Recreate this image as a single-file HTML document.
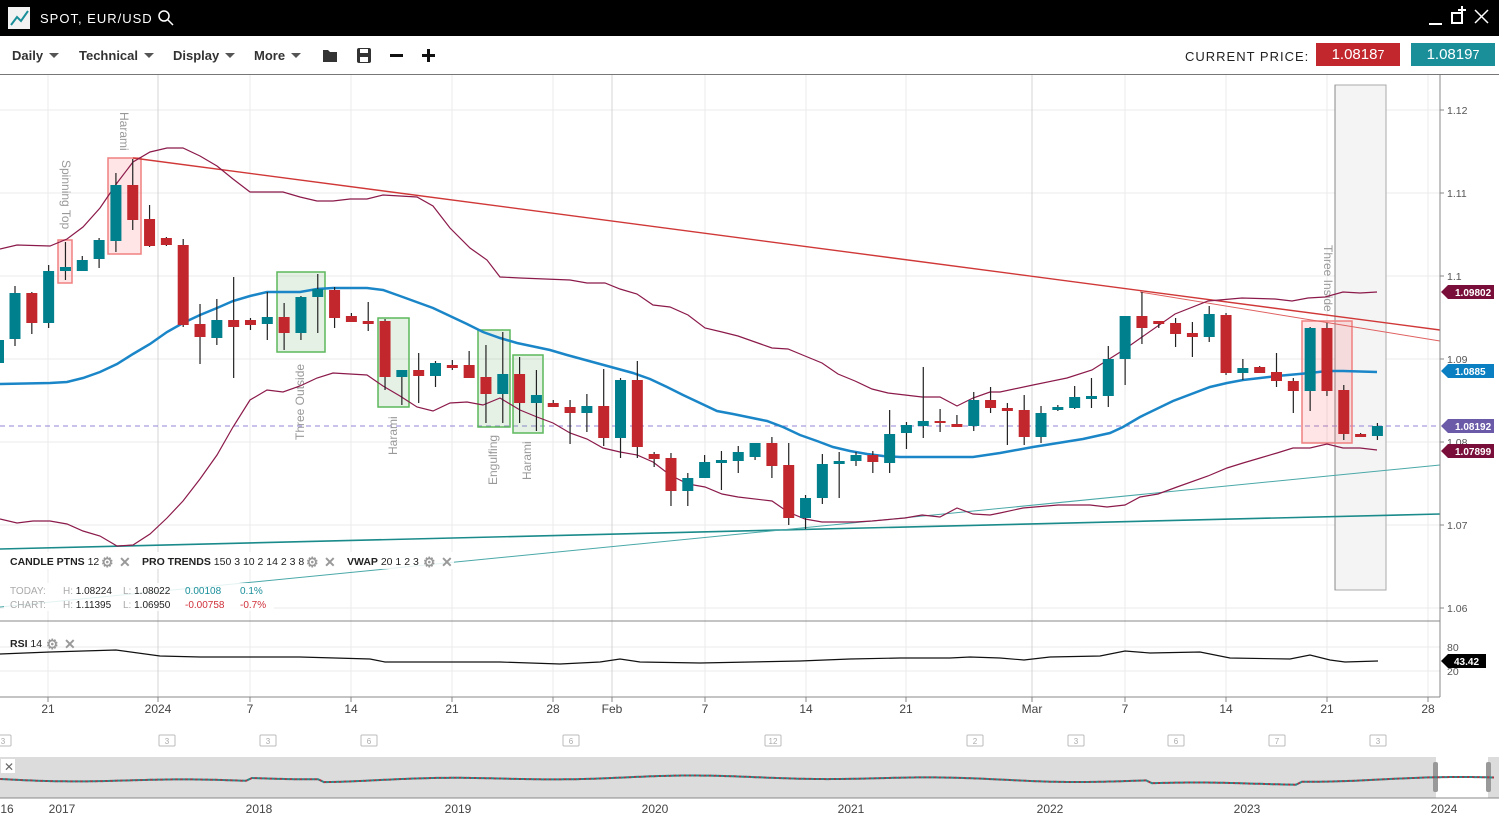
<!DOCTYPE html>
<html><head><meta charset="utf-8">
<style>
*{margin:0;padding:0;box-sizing:border-box}
body{width:1499px;height:827px;overflow:hidden;background:#fff;font-family:"Liberation Sans",Arial,sans-serif;position:relative}
.top{position:absolute;left:0;top:0;width:1499px;height:36px;background:#000}
.tb{position:absolute;top:36px;left:0;width:1499px;height:39px;border-bottom:1px solid #777}
.tb .it{position:absolute;top:12px;font-size:13px;font-weight:bold;color:#333}
.tri{display:inline-block;width:0;height:0;border-left:5px solid transparent;border-right:5px solid transparent;border-top:5px solid #555;margin-left:6px;vertical-align:2px}
svg{position:absolute;left:0;top:0}
</style></head><body>
<div class="top">
 <div style="position:absolute;left:8px;top:7px;width:22px;height:22px;background:#f2f2f2"></div>
 <svg width="40" height="36" style="left:0;top:0"><polyline points="11,25 17,17 21,21 28,11" fill="none" stroke="#1a8f9a" stroke-width="2"/></svg>
 <div style="position:absolute;left:40px;top:11px;color:#fff;font-size:13px;letter-spacing:1px">SPOT, EUR/USD</div>
 <svg width="20" height="20" style="left:157px;top:9px"><circle cx="7" cy="7" r="5" fill="none" stroke="#fff" stroke-width="1.5"/><line x1="11" y1="11" x2="16" y2="16" stroke="#fff" stroke-width="1.5"/></svg>
 <svg width="70" height="36" style="left:1425px;top:0"><line x1="4" y1="24" x2="17" y2="24" stroke="#fff" stroke-width="2"/><rect x="27" y="13" width="10" height="10" fill="none" stroke="#fff" stroke-width="2"/><line x1="37" y1="6" x2="37" y2="14" stroke="#fff" stroke-width="2"/><line x1="33" y1="10" x2="41" y2="10" stroke="#fff" stroke-width="2"/><line x1="50" y1="10" x2="63" y2="23" stroke="#fff" stroke-width="1.5"/><line x1="63" y1="10" x2="50" y2="23" stroke="#fff" stroke-width="1.5"/></svg>
</div>
<div class="tb">
 <div class="it" style="left:12px">Daily<span class="tri"></span></div>
 <div class="it" style="left:79px">Technical<span class="tri"></span></div>
 <div class="it" style="left:173px">Display<span class="tri"></span></div>
 <div class="it" style="left:254px">More<span class="tri"></span></div>
 <svg width="120" height="38" style="left:320px;top:0"><path d="M3,14 h5 l2,2 h7 v10 h-14z" fill="#333"/><rect x="37" y="12" width="14" height="15" rx="2" fill="#333"/><rect x="40" y="13" width="8" height="4" fill="#fff"/><rect x="40" y="21" width="8" height="5" fill="#fff"/><rect x="70" y="18" width="13" height="3" fill="#111"/><rect x="102" y="18" width="13" height="3" fill="#111"/><rect x="107" y="13" width="3" height="13" fill="#111"/></svg>
 <div style="position:absolute;left:1185px;top:13px;font-size:13px;color:#222;letter-spacing:1px">CURRENT PRICE:</div>
 <div style="position:absolute;left:1316px;top:7px;width:84px;height:23px;background:#c1272d;color:#fff;font-size:15px;text-align:center;line-height:23px">1.0818<small>7</small></div>
 <div style="position:absolute;left:1411px;top:7px;width:84px;height:23px;background:#1a8f9a;color:#fff;font-size:15px;text-align:center;line-height:23px">1.0819<small>7</small></div>
</div>
<svg id="ch" width="1499" height="827" style="top:0" font-family="Liberation Sans, Arial, sans-serif">
<g stroke="#ebebeb" stroke-width="1">
<line x1="0" y1="110" x2="1440" y2="110"/><line x1="0" y1="193" x2="1440" y2="193"/><line x1="0" y1="276" x2="1440" y2="276"/><line x1="0" y1="359" x2="1440" y2="359"/><line x1="0" y1="442" x2="1440" y2="442"/><line x1="0" y1="525" x2="1440" y2="525"/><line x1="0" y1="608" x2="1440" y2="608"/>
<line x1="0" y1="647" x2="1440" y2="647"/><line x1="0" y1="671" x2="1440" y2="671"/>
</g>
<g id="vg" stroke-width="1"></g>
<rect x="1335" y="85" width="51" height="505" fill="#f4f4f4" stroke="#aaa" stroke-width="1"/>
<line x1="1335" y1="85" x2="1335" y2="590" stroke="#888"/>
<line x1="0" y1="426" x2="1440" y2="426" stroke="#9484d4" stroke-dasharray="5,4"/>
<g fill="rgba(255,80,80,0.15)" stroke="#f08080" stroke-width="1.5">
<rect x="58" y="240" width="14" height="43"/><rect x="108" y="158" width="33" height="96"/><rect x="1302" y="321" width="50" height="122"/>
</g>
<g fill="rgba(60,150,60,0.13)" stroke="#5cb85c" stroke-width="1.5">
<rect x="277" y="272" width="48" height="80"/><rect x="378" y="318" width="31" height="89"/><rect x="478" y="330" width="32" height="97"/><rect x="513" y="355" width="30" height="78"/>
</g>
<g fill="#999" font-size="12">
<text transform="translate(62,160) rotate(90)">Spinning Top</text>
<text transform="translate(120,112) rotate(90)">Harami</text>
<text transform="translate(304,440) rotate(-90)">Three Outside</text>
<text transform="translate(397,455) rotate(-90)">Harami</text>
<text transform="translate(497,485) rotate(-90)">Engulfing</text>
<text transform="translate(531,480) rotate(-90)">Harami</text>
<text transform="translate(1324,245) rotate(90)">Three Inside</text>
</g>
<g id="lines" fill="none"></g>
<g id="cd"></g>
<rect x="4" y="552" width="450" height="17" fill="#fff" opacity="0.85"/>
<rect x="4" y="583" width="270" height="28" fill="#fff" opacity="0.85"/>
<g font-size="10.5" fill="#222">
<text x="10" y="565"><tspan font-weight="bold">CANDLE PTNS</tspan> 12</text>
<text x="142" y="565"><tspan font-weight="bold">PRO TRENDS</tspan> 150 3 10 2 14 2 3 8</text>
<text x="347" y="565"><tspan font-weight="bold">VWAP</tspan> 20 1 2 3</text>
<text x="10" y="647"><tspan font-weight="bold">RSI</tspan> 14</text>
</g>
<g fill="#999" font-size="14" font-weight="bold">
<text x="101" y="567">⚙</text><text x="119" y="567">✕</text><text x="306" y="567">⚙</text><text x="324" y="567">✕</text><text x="423" y="567">⚙</text><text x="441" y="567">✕</text><text x="46" y="649">⚙</text><text x="64" y="649">✕</text>
</g>
<g font-size="10" fill="#222">
<text x="10" y="594" fill="#aaa">TODAY:</text><text x="63" y="594"><tspan fill="#aaa">H:</tspan> 1.08224</text><text x="123" y="594"><tspan fill="#aaa">L:</tspan> 1.08022</text><text x="185" y="594" fill="#1a8f9a">0.00108</text><text x="240" y="594" fill="#1a8f9a">0.1%</text>
<text x="10" y="608" fill="#aaa">CHART:</text><text x="63" y="608"><tspan fill="#aaa">H:</tspan> 1.11395</text><text x="123" y="608"><tspan fill="#aaa">L:</tspan> 1.06950</text><text x="185" y="608" fill="#d0303a">-0.00758</text><text x="240" y="608" fill="#d0303a">-0.7%</text>
</g>
<line x1="0" y1="621" x2="1440" y2="621" stroke="#888"/>
<line x1="0" y1="697" x2="1440" y2="697" stroke="#888"/>
<line x1="1440" y1="75" x2="1440" y2="697" stroke="#888"/>
<polyline fill="none" stroke="#111" stroke-width="1.2" points="0,654 50,652 116,650 160,656 200,657 300,657 370,659 385,662 500,662 560,664 600,662 620,659 640,662 700,663 800,661 850,659 900,658 950,658 970,657 1000,658 1024,660 1050,657 1100,656 1125,651 1150,653 1200,652 1230,658 1290,659 1310,655 1330,660 1345,662 1378,661"/>
<g font-size="10.5" fill="#555">
<text x="1447" y="114">1.12</text><text x="1447" y="197">1.11</text><text x="1447" y="280">1.1</text><text x="1447" y="363">1.09</text><text x="1447" y="446">1.08</text><text x="1447" y="529">1.07</text><text x="1447" y="612">1.06</text><text x="1447" y="651">80</text><text x="1447" y="675">20</text>
</g>
<g stroke="#888"><line x1="1440" y1="110" x2="1444" y2="110"/><line x1="1440" y1="193" x2="1444" y2="193"/><line x1="1440" y1="276" x2="1444" y2="276"/><line x1="1440" y1="359" x2="1444" y2="359"/><line x1="1440" y1="442" x2="1444" y2="442"/><line x1="1440" y1="525" x2="1444" y2="525"/><line x1="1440" y1="608" x2="1444" y2="608"/></g>
<g id="tags" font-size="10" font-weight="bold" fill="#fff"></g>
<g font-size="12" fill="#444" text-anchor="middle">
<text x="48" y="713">21</text><text x="158" y="713">2024</text><text x="250" y="713">7</text><text x="351" y="713">14</text><text x="452" y="713">21</text><text x="553" y="713">28</text><text x="612" y="713">Feb</text><text x="705" y="713">7</text><text x="806" y="713">14</text><text x="906" y="713">21</text><text x="1032" y="713">Mar</text><text x="1125" y="713">7</text><text x="1226" y="713">14</text><text x="1327" y="713">21</text><text x="1428" y="713">28</text>
</g>
<g id="cal" font-size="8" fill="#aaa" text-anchor="middle"></g>
<rect x="0" y="757" width="1499" height="41" fill="#dcdcdc"/>
<rect x="1436" y="757" width="52" height="41" fill="#fff"/>
<rect x="1433" y="762" width="5" height="30" rx="2" fill="#999"/><rect x="1486" y="762" width="5" height="30" rx="2" fill="#999"/>
<rect x="1" y="759" width="14" height="14" fill="#fff"/><text x="4" y="771" font-size="12" fill="#666">✕</text>
<polyline id="nav" fill="none" stroke="#2a8a8a" stroke-width="2" stroke-dasharray="3,2"></polyline>
<line x1="0" y1="798" x2="1499" y2="798" stroke="#888"/>
<g font-size="12" fill="#444" text-anchor="middle">
<text x="7" y="813">16</text><text x="62" y="813">2017</text><text x="259" y="813">2018</text><text x="458" y="813">2019</text><text x="655" y="813">2020</text><text x="851" y="813">2021</text><text x="1050" y="813">2022</text><text x="1247" y="813">2023</text><text x="1444" y="813">2024</text>
</g>
</svg>
<script>
var NS="http://www.w3.org/2000/svg";
function el(p,t,a){var e=document.createElementNS(NS,t);for(var k in a)e.setAttribute(k,a[k]);p.appendChild(e);return e;}
var vg=document.getElementById('vg');
[[48,0],[158,1],[250,0],[351,0],[452,0],[553,0],[612,1],[705,0],[806,0],[906,0],[1032,1],[1125,0],[1226,0],[1327,0],[1428,0]].forEach(function(v){el(vg,'line',{x1:v[0],y1:75,x2:v[0],y2:697,stroke:v[1]?'#d4d4d4':'#ebebeb'});el(vg,'line',{x1:v[0],y1:697,x2:v[0],y2:702,stroke:'#888'});});
var L=document.getElementById('lines');
function pl(pts,c,w){el(L,'polyline',{points:pts,stroke:c,'stroke-width':w,fill:'none'});}
pl("0,549 1440,514","#1a8a8a",1.6);
pl("0,607 1440,465","#4aa8a8",1);
pl("133,158 1440,330","#d03838",1.4);
pl("1140,292 1440,341","#e06060",1);
pl("0,249 17,245 50,246 67,239 83,227 100,208 117,183 133,162 150,152 167,148 183,148 200,156 217,166 233,179 250,192 283,192 300,197 317,201 333,201 350,199 367,199 383,195 400,196 417,197 433,206 450,228 470,248 487,260 500,277 520,278 570,280 587,283 605,283 620,289 637,294 653,305 670,307 688,315 705,328 722,332 738,336 755,342 772,348 788,349 805,356 822,363 838,374 855,381 872,389 888,393 905,395 922,397 940,397 957,406 973,398 990,392 1000,392 1033,385 1067,378 1092,370 1125,349 1142,337 1175,314 1208,301 1242,298 1275,299 1292,301 1308,298 1325,297 1343,292 1360,293 1377,292","#8b1a4a",1.2);
pl("0,519 17,523 33,521 50,521 67,524 83,531 100,536 117,546 133,545 150,534 167,518 183,501 200,479 217,455 233,427 250,400 267,390 283,392 300,386 317,378 333,373 367,375 383,386 400,396 417,407 433,411 450,403 467,402 483,405 500,398 520,410 537,417 553,423 570,433 587,439 603,448 620,452 637,455 653,462 670,475 688,484 705,487 722,494 738,497 772,501 788,512 805,519 822,522 855,522 872,521 905,518 922,515 940,517 957,508 973,514 990,515 1000,513 1023,508 1058,505 1090,505 1107,507 1125,505 1140,497 1158,494 1177,487 1208,476 1227,468 1243,463 1260,458 1277,453 1293,448 1310,448 1327,444 1343,448 1360,448 1377,450","#8b1a4a",1.2);
pl("0,384 50,383 67,382 83,378 100,372 117,364 133,354 150,344 167,332 183,323 200,315 217,308 233,301 250,296 267,292 300,292 317,289 333,288 367,288 383,290 400,296 433,308 450,316 467,324 483,332 500,338 517,343 550,350 567,355 600,364 633,373 650,379 667,387 683,395 700,403 717,411 733,414 767,421 783,427 800,435 817,441 833,447 850,451 867,454 883,456 900,457 933,457 973,457 1000,453 1033,447 1083,439 1110,433 1123,427 1140,417 1173,401 1210,387 1227,383 1243,380 1277,376 1310,373 1327,371 1343,371 1377,372","#1a86c8",2.5);
var C=[[293,339,286,346,1],[293,323,292,334,0],[271,323,265,328,1],[267,271,242,280,1],[260,271,256,271,1],[240,259,238,268,1],[185,241,173,252,1],[185,220,159,230,0],[219,246,205,247,0],[238,245,237,246,0],[245,325,239,327,0],[324,337,304,364,0],[320,338,299,345,1],[320,327,277,378,0],[320,325,318,330,0],[317,324,292,340,1],[317,333,303,350,0],[297,333,296,340,1],[289,297,274,333,1],[290,318,287,328,0],[316,322,313,322,0],[321,324,302,331,0],[321,377,319,390,0],[370,377,370,405,1],[370,376,353,403,0],[363,376,361,387,1],[365,368,360,370,0],[365,378,351,378,0],[377,394,345,423,0],[374,394,332,423,1],[374,403,357,423,0],[395,403,370,431,1],[403,407,400,407,0],[407,413,400,444,0],[406,413,394,432,1],[406,438,369,446,0],[380,438,378,458,1],[380,447,361,458,0],[454,459,452,467,0],[458,491,453,506,0],[478,491,473,506,1],[462,478,455,478,1],[460,463,451,490,1],[452,461,446,473,1],[443,457,443,460,1],[443,466,437,478,0],[465,518,443,525,0],[498,518,495,529,1],[464,498,454,504,1],[461,464,452,498,1],[455,461,452,466,1],[455,462,451,473,0],[434,463,410,473,1],[425,433,422,449,1],[421,426,367,438,1],[421,423,409,432,0],[424,427,415,427,0],[400,426,392,431,1],[400,408,387,413,0],[408,411,403,445,0],[410,437,395,445,0],[413,437,406,443,1],[407,410,405,411,1],[397,408,386,409,1],[396,399,378,408,1],[359,396,346,407,1],[316,359,316,385,1],[316,328,292,344,0],[321,324,321,328,0],[323,334,318,347,0],[333,337,322,357,0],[314,337,306,342,1],[315,373,313,375,0],[368,373,359,380,1],[367,373,366,373,0],[372,381,353,387,0],[381,391,378,413,0],[328,391,327,411,1],[328,391,323,396,0],[390,434,385,440,0],[434,437,433,437,0],[426,436,423,440,1]];
var cd=document.getElementById('cd');
el(cd,'rect',{x:0,y:340,width:4,height:23,fill:'#00808c'});
C.forEach(function(c,i){var x=15+16.82*i;var col=c[4]?'#00808c':'#c1272d';
el(cd,'line',{x1:x,y1:c[2],x2:x,y2:c[3],stroke:'#222','stroke-width':1.2});
el(cd,'rect',{x:x-5.5,y:c[0],width:11,height:Math.max(2,c[1]-c[0]),fill:col});});
var T=document.getElementById('tags');
[[292,'1.09802','#7a0e3a'],[371,'1.0885','#0a7fc2'],[426,'1.08192','#6a5aa8'],[451,'1.07899','#7a0e3a']].forEach(function(t){
el(T,'path',{d:'M1441,'+t[0]+' l7,-7 h46 v14 h-46z',fill:t[2]});var tx=el(T,'text',{x:1455,y:t[0]+4});tx.textContent=t[1];});
el(T,'path',{d:'M1441,661 l7,-7 h38 v14 h-38z',fill:'#000'});var tx=el(T,'text',{x:1454,y:665});tx.textContent='43.42';
var cal=document.getElementById('cal');
[[3,'3'],[167,'3'],[268,'3'],[369,'6'],[571,'6'],[773,'12'],[975,'2'],[1076,'3'],[1176,'6'],[1277,'7'],[1378,'3']].forEach(function(c){
el(cal,'rect',{x:c[0]-8,y:735,width:16,height:11,fill:'#fff',stroke:'#bbb',rx:1});var t=el(cal,'text',{x:c[0],y:744});t.textContent=c[1];});
var p=[];for(var x=0;x<1499;x+=6){var y=779+Math.sin(x/40)*1.5+Math.sin(x/150)*2+(x>1150&&x<1300?3:0)-(x>250&&x<320?3:0);p.push(x+','+y.toFixed(1));}
var n=document.getElementById('nav');n.setAttribute('points',p.join(' '));n.setAttribute('stroke','#b03040');
var n2=n.cloneNode();n2.setAttribute('stroke','#2a8a8a');n2.setAttribute('stroke-dashoffset','2.5');n.parentNode.insertBefore(n2,n.nextSibling);
</script>
</body></html>
